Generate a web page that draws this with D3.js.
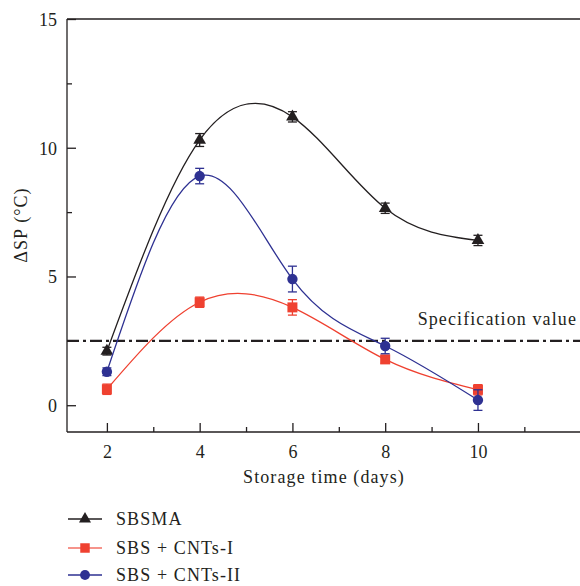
<!DOCTYPE html>
<html><head><meta charset="utf-8">
<script src="https://cdn.jsdelivr.net/npm/d3@7"></script>
<style>body{margin:0;background:#fff}svg{display:block}text{font-family:"Liberation Serif",serif !important;fill:#231f20}</style>
</head><body>
<svg id="c" width="580" height="586" font-family="Liberation Serif"></svg>
<script>
const days = [2, 4, 6, 8, 10];
const sbsma = [2.1, 10.3, 11.2, 7.65, 6.4];
const sbsmaErr = [0.15, 0.25, 0.2, 0.2, 0.2];
const cnt1 = [0.62, 4.0, 3.8, 1.78, 0.6];
const cnt1Err = [0.2, 0.2, 0.3, 0.15, 0.2];
const cnt2 = [1.3, 8.9, 4.9, 2.3, 0.2];
const cnt2Err = [0.15, 0.3, 0.5, 0.3, 0.4];
const specValue = 2.5;
const xTicks = [2, 4, 6, 8, 10];
const yTicks = [0, 5, 10, 15];
const seriesNames = ["SBSMA", "SBS + CNTs-I", "SBS + CNTs-II"];

const svg = d3.select("#c");
const x = d3.scaleLinear().domain([1.14, 12.2]).range([67, 580]);
const y = d3.scaleLinear().domain([-1.04, 15]).range([432, 19]);
const dark = "#231f20";

svg.append("line").attr("x1",67).attr("x2",580).attr("y1",y(15)).attr("y2",y(15)).attr("stroke",dark).attr("stroke-width",1.3);
const xa = svg.append("g").attr("transform","translate(0,432)")
  .call(d3.axisBottom(x).tickValues(xTicks).tickSize(-9).tickPadding(13).tickFormat(d3.format("d")));
const xm = svg.append("g").attr("transform","translate(0,432)")
  .call(d3.axisBottom(x).tickValues([3,5,7,9,11]).tickSize(-5).tickFormat(""));
const ya = svg.append("g").attr("transform","translate(67,0)")
  .call(d3.axisLeft(y).tickValues(yTicks).tickSize(-9).tickPadding(10).tickFormat(d3.format("d")));
const ym = svg.append("g").attr("transform","translate(67,0)")
  .call(d3.axisLeft(y).tickValues([2.5,7.5,12.5]).tickSize(-5).tickFormat(""));
[xa,xm,ya,ym].forEach(g=>{
  g.attr("font-family","Liberation Serif");
  g.select(".domain").attr("stroke",dark).attr("stroke-width",1.3);
  g.selectAll(".tick line").attr("stroke",dark).attr("stroke-width",1.3);
  g.selectAll(".tick text").style("font-size","18px").attr("fill",dark);
});
xm.select(".domain").remove(); ym.select(".domain").remove();
xa.select(".domain").attr("d","M67,0H580");
ya.select(".domain").attr("d","M0,432V19");
ya.selectAll(".tick text").attr("dy","0.35em");

const lbl = (sel)=>sel.style("font-size","18px").style("letter-spacing","1.1px");
lbl(svg.append("text").attr("x",324).attr("y",483).attr("text-anchor","middle").text("Storage time (days)"));
lbl(svg.append("text").attr("transform","translate(27,225) rotate(-90)").attr("text-anchor","middle").text("ΔSP (°C)"));

svg.append("line").attr("x1",67).attr("x2",580).attr("y1",y(specValue)).attr("y2",y(specValue))
  .attr("stroke",dark).attr("stroke-width",2.2).attr("stroke-dasharray","12,4,3,4");
lbl(svg.append("text").attr("x",577).attr("y",y(specValue)-16).attr("text-anchor","end").text("Specification value"));

const series = [
  {name: seriesNames[0], vals: sbsma, err: sbsmaErr, color: dark, shape: d3.symbolTriangle, size: 70},
  {name: seriesNames[1], vals: cnt1, err: cnt1Err, color: "#ef4130", shape: d3.symbolSquare, size: 100},
  {name: seriesNames[2], vals: cnt2, err: cnt2Err, color: "#2e3192", shape: d3.symbolCircle, size: 85}
];
const line = d3.line().x(d=>x(d[0])).y(d=>y(d[1])).curve(d3.curveNatural);
series.forEach(s=>{
  const pts = days.map((d,i)=>[d, s.vals[i], s.err[i]]);
  svg.append("path").attr("d", line(pts)).attr("fill","none").attr("stroke", s.color).attr("stroke-width",1.3);
  const g = svg.append("g");
  pts.forEach(p=>{
    const cx = x(p[0]), y1 = y(p[1]+p[2]), y2 = y(p[1]-p[2]);
    g.append("line").attr("x1",cx).attr("x2",cx).attr("y1",y1).attr("y2",y2).attr("stroke",s.color).attr("stroke-width",1.3);
    g.append("line").attr("x1",cx-4.5).attr("x2",cx+4.5).attr("y1",y1).attr("y2",y1).attr("stroke",s.color).attr("stroke-width",1.3);
    g.append("line").attr("x1",cx-4.5).attr("x2",cx+4.5).attr("y1",y2).attr("y2",y2).attr("stroke",s.color).attr("stroke-width",1.3);
    g.append("path").attr("d", d3.symbol().type(s.shape).size(s.size)()).attr("transform",`translate(${cx},${y(p[1])})`).attr("fill",s.color);
  });
});

const ly = [519, 548, 575];
series.forEach((s,i)=>{
  svg.append("line").attr("x1",68).attr("x2",102).attr("y1",ly[i]).attr("y2",ly[i]).attr("stroke",s.color).attr("stroke-width",1.3).attr("stroke-opacity", i===1?0.75:1);
  svg.append("path").attr("d", d3.symbol().type(s.shape).size(s.size*0.9)()).attr("transform",`translate(85,${ly[i]})`).attr("fill",s.color);
  lbl(svg.append("text").attr("x",116).attr("y",ly[i]).attr("dy","0.35em").text(s.name));
});
</script>
</body></html>
